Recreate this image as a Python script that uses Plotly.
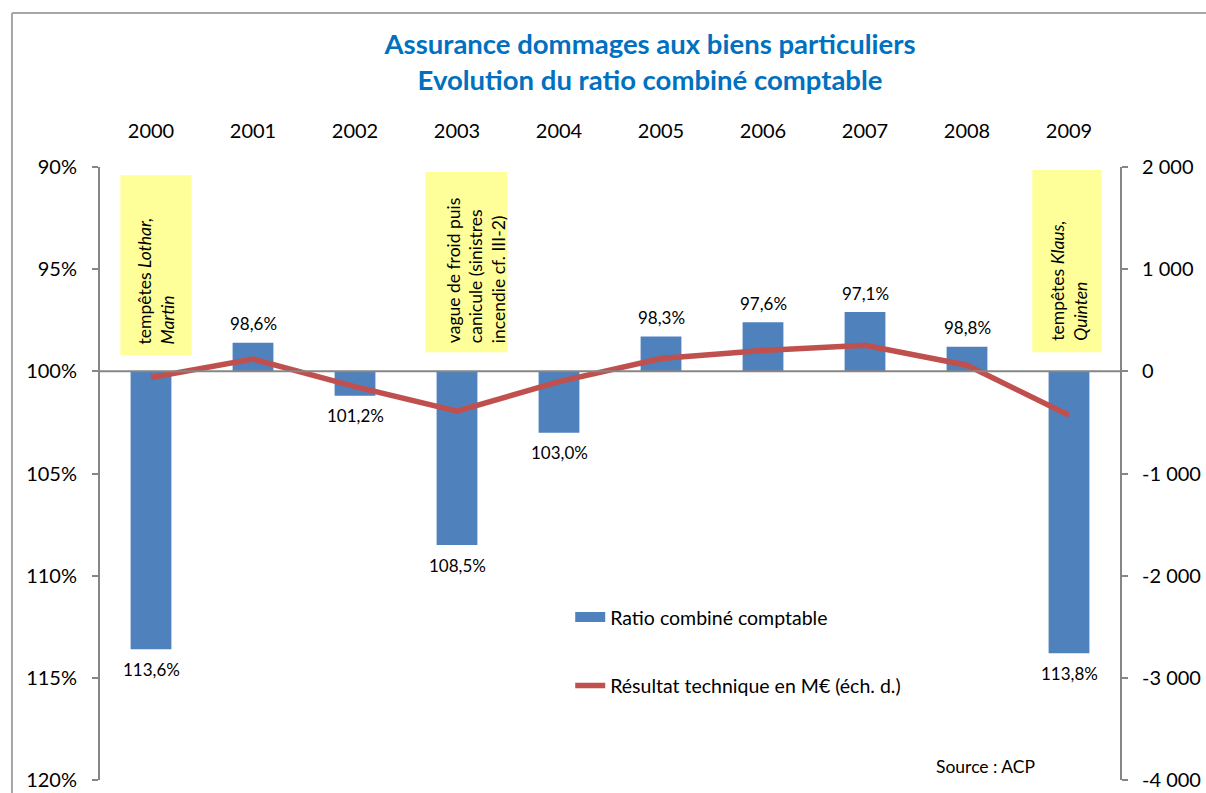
import plotly.graph_objects as go

# ---- data ----
years = ["2000", "2001", "2002", "2003", "2004", "2005", "2006", "2007", "2008", "2009"]
ratio = [113.6, 98.6, 101.2, 108.5, 103.0, 98.3, 97.6, 97.1, 98.8, 113.8]
resultat = [-60, 120, -150, -390, -100, 125, 205, 255, 60, -430]

left_tickvals = [90, 95, 100, 105, 110, 115, 120]
left_ticktext = ["90%", "95%", "100%", "105%", "110%", "115%", "120%"]
right_tickvals = [2000, 1000, 0, -1000, -2000, -3000, -4000]
right_ticktext = ["2\u00a0000", "1\u00a0000", "0", "-1\u00a0000", "-2\u00a0000", "-3\u00a0000", "-4\u00a0000"]

notes = [
    ("2000", "tempêtes <i>Lothar,</i><br><i>Martin</i>"),
    ("2003", "vague de froid puis<br>canicule (sinistres<br>incendie cf. III-2)"),
    ("2009", "tempêtes <i>Klaus,</i><br><i>Quinten</i>"),
]

BASE = 100
FONT = "Lato"
BAR_C = "#4F81BD"
LINE_C = "#C0504D"
AX_C = "#868686"

xpos = list(range(len(years)))

fig = go.Figure()
fig.add_trace(go.Bar(
    x=xpos, y=[v - BASE for v in ratio], base=BASE,
    marker=dict(color=BAR_C, line=dict(width=0)), width=0.4,
    name="Ratio combiné comptable", legendgroup="a", showlegend=False, yaxis="y",
))
# legend entry for the bars (wide rectangle swatch like the original)
fig.add_trace(go.Scatter(
    x=[None], y=[None], mode="lines", line=dict(color=BAR_C, width=10),
    name="Ratio combiné comptable", legendgroup="a", showlegend=True, yaxis="y",
))
fig.add_trace(go.Scatter(
    x=xpos, y=resultat, mode="lines",
    line=dict(color=LINE_C, width=5.5),
    name="Résultat technique en M€ (éch. d.)", legendgroup="b", yaxis="y2",
))

# data labels
for xi, v in zip(xpos, ratio):
    fig.add_annotation(
        x=xi, y=v, xref="x", yref="y",
        text=f"{v:.1f}%".replace(".", ","), showarrow=False,
        yshift=19 if v < BASE else -20,
        font=dict(family=FONT, size=17, color="#000000"),
    )

# yellow note boxes
box_geo = {"2000": (-0.30, 0.40, 90.4, 99.2, 0.05, 98.8),
           "2003": (-0.31, 0.49, 90.25, 99.07, 0.19, 98.7),
           "2009": (-0.36, 0.32, 90.15, 99.07, 0.0, 98.6)}
for yr, txt in notes:
    i = years.index(yr)
    x0, x1, y0, y1, xc, yb = box_geo[yr]
    fig.add_shape(type="rect", xref="x", yref="y", x0=i + x0, x1=i + x1, y0=y0, y1=y1,
                  fillcolor="#FFFF99", line=dict(width=0), layer="below")
    fig.add_annotation(x=i + xc, y=yb, xref="x", yref="y", text=txt, showarrow=False,
                       textangle=-90, align="left", xanchor="center", yanchor="bottom",
                       font=dict(family=FONT, size=17.5, color="#000000"))

# 100% baseline
fig.add_shape(type="line", xref="paper", yref="y", x0=0, x1=1, y0=BASE, y1=BASE,
              line=dict(color=AX_C, width=2))

# outer chart frame
fig.add_shape(type="line", xref="paper", yref="paper", x0=-0.0863, x1=1.09, y0=1.2512, y1=1.2512,
              line=dict(color="#A6A6A6", width=2))
fig.add_shape(type="line", xref="paper", yref="paper", x0=-0.0863, x1=-0.0863, y0=-0.03, y1=1.2512,
              line=dict(color="#A6A6A6", width=2))

fig.add_annotation(x=0.868, y=0.0228, xref="paper", yref="paper", text="Source : ACP",
                   xanchor="center", yanchor="middle", showarrow=False,
                   font=dict(family=FONT, size=17.5, color="#000000"))

fig.update_layout(
    width=1206, height=793,
    margin=dict(l=100, r=86, t=167, b=13, autoexpand=False),
    paper_bgcolor="white", plot_bgcolor="white",
    font=dict(family=FONT, size=17, color="#000000"),
    title=dict(text="<b>Assurance dommages aux biens particuliers<br>Evolution du ratio combiné comptable</b>",
               x=0.539, xanchor="center", y=0.932, yanchor="top",
               font=dict(family=FONT, size=27.5, color="#0070C0")),
    xaxis=dict(range=[-0.5, len(years) - 0.5], tickvals=xpos, ticktext=years,
               side="top", showline=False, showgrid=False, zeroline=False,
               automargin=False,
               ticks="outside", ticklen=20, tickcolor="rgba(0,0,0,0)",
               tickfont=dict(family=FONT, size=20)),
    yaxis=dict(range=[120, 90], tickvals=left_tickvals, ticktext=left_ticktext, automargin=False,
               showgrid=False, zeroline=False, showline=True, linecolor=AX_C, linewidth=2,
               ticks="outside", ticklen=6, tickcolor=AX_C, tickwidth=1.5, ticklabelstandoff=11,
               tickfont=dict(family=FONT, size=20)),
    yaxis2=dict(range=[-4000, 2000], overlaying="y", side="right", automargin=False,
                tickvals=right_tickvals, ticktext=right_ticktext,
                showgrid=False, zeroline=False, showline=True, linecolor=AX_C, linewidth=2,
                ticks="outside", ticklen=6, tickcolor=AX_C, tickwidth=1.5, ticklabelstandoff=10,
                tickfont=dict(family=FONT, size=20)),
    showlegend=True,
    legend=dict(x=0.461, y=0.297, xanchor="left", yanchor="top", traceorder="grouped",
                tracegroupgap=40, bgcolor="rgba(0,0,0,0)",
                font=dict(family=FONT, size=19.5)),
    bargap=0.6,
)

fig.write_html("out.html", config={"displayModeBar": False},
               post_script="document.body.style.margin='0';")
